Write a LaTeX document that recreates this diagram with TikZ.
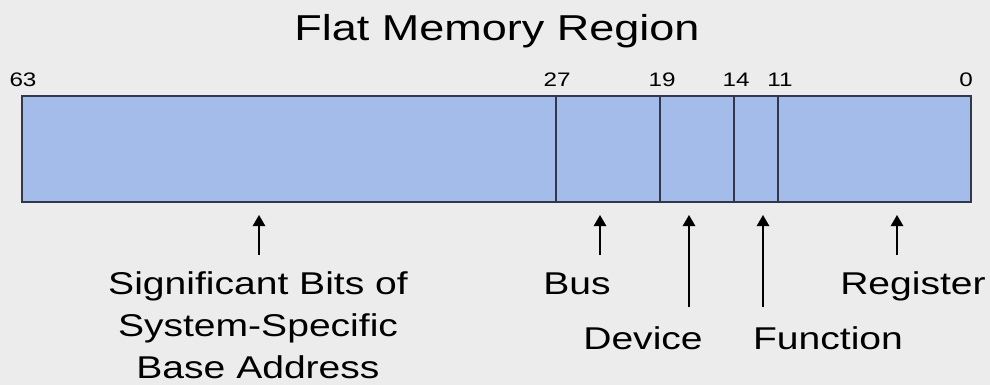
\documentclass[tikz,border=0pt]{standalone}
\usepackage{fontspec}
\setmainfont{Liberation Sans}
\usetikzlibrary{arrows.meta}

\definecolor{fieldblue}{RGB}{163,188,234}
\definecolor{boxline}{RGB}{50,55,75}
\definecolor{slidebg}{RGB}{236,236,236}

\tikzset{
  field/.style = {draw=boxline, line width=1.3pt, fill=fieldblue},
  divider/.style = {draw=boxline, line width=1.3pt},
  bitno/.style = {font=\fontsize{13.9}{16}\selectfont, anchor=base, xscale=1.24},
  lbl/.style = {font=\fontsize{22.4}{29.6}\selectfont, anchor=base, align=center, xscale=1.24},
  ptr/.style = {line width=1.1pt, -{Triangle[width=9pt,length=8pt]}}
}

\begin{document}
\begin{tikzpicture}[x=0.025cm, y=-0.025cm]
\useasboundingbox (0,0) rectangle (990,385);
\fill[slidebg] (0,0) rectangle (990,385);

\node[font=\fontsize{25.6}{30}\selectfont, anchor=base, xscale=1.25] (title) at (497,41) {Flat Memory Region};

% register layout, bit 63 down to bit 0
\draw[field] (22,96) rectangle (971,202);
\draw[divider] (556,96) -- (556,202);
\draw[divider] (660,96) -- (660,202);
\draw[divider] (734,96) -- (734,202);
\draw[divider] (778,96) -- (778,202);

\node[bitno] (b63) at (23,87) {63};
\node[bitno] (b27) at (557,87) {27};
\node[bitno] (b19) at (662,87) {19};
\node[bitno] (b14) at (736,87) {14};
\node[bitno] (b11) at (780,87) {11};
\node[bitno] (b0) at (966,87) {0};

% pointers up to the fields
\coordinate (base tip) at (259,215);
\coordinate (base tail) at (259,255);
\coordinate (bus tip) at (600,215);
\coordinate (bus tail) at (600,255);
\coordinate (dev tip) at (689,215);
\coordinate (dev tail) at (689,307);
\coordinate (fn tip) at (763,215);
\coordinate (fn tail) at (763,307);
\coordinate (reg tip) at (897,215);
\coordinate (reg tail) at (897,255);

\draw[ptr] (base tail) -- (base tip);
\draw[ptr] (bus tail) -- (bus tip);
\draw[ptr] (dev tail) -- (dev tip);
\draw[ptr] (fn tail) -- (fn tip);
\draw[ptr] (reg tail) -- (reg tip);

% base of a multi-line node is its last line
\node[lbl] (base) at (258,378) {Significant Bits of\\System-Specific\\Base Address};
\node[lbl] (bus) at (577,295) {Bus};
\node[lbl] (dev) at (643,349) {Device};
\node[lbl] (fn) at (828,349) {Function};
\node[lbl] (reg) at (913,295) {Register};
\end{tikzpicture}
\end{document}
